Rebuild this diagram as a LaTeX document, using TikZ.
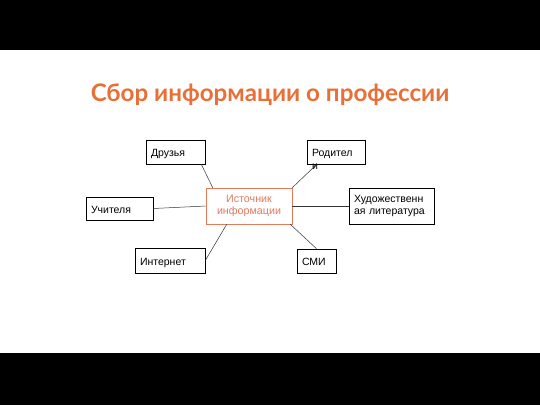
\documentclass[tikz,border=0pt]{standalone}
\usepackage{fontspec}
\setmainfont{Liberation Sans}
\newfontfamily\titlefont{Lato}
\usetikzlibrary{arrows,calc}
\definecolor{orangetitle}{RGB}{232,112,56}
\definecolor{orangebox}{RGB}{226,122,92}

\begin{document}
\begin{tikzpicture}[x=1pt, y=-1pt,
        box/.style={rectangle, draw=black, line width=0.6pt, inner xsep=5pt, inner ysep=0pt, align=left, font=\fontsize{10.5}{12.2}\selectfont},
        oneline/.style={text height=9.5pt, text depth=0pt},
        source/.style={rectangle, draw=orangebox, line width=0.6pt, inner sep=0pt, align=center, text=orangebox, font=\fontsize{10.7}{12.5}\selectfont},
        line/.style={draw, black!80, line width=0.5pt}]
        \fill [black] (0,0) rectangle (540,50);
        \fill [white] (0,50) rectangle (540,353);
        \fill [black] (0,353) rectangle (540,405);

        \node [font=\titlefont\bfseries\fontsize{24.2}{28}\selectfont, text=orangetitle] (title) at (270,95) {Сбор информации о профессии};

        \node [source, minimum width=86pt, minimum height=36pt] (src) at (249,206) {Источник\\информации};
        \node [box, oneline, text width=49pt, minimum height=24pt] (friends) at (175.5,152) {Друзья};
        \node [box, text width=48pt, minimum height=24pt] (parents) at (336,152) {\smash{\raisebox{-4.5pt}{\begin{tabular}[t]{@{}l@{}}Родител\\[0.3pt]и\end{tabular}}}};
        \node [box, oneline, text width=57pt, minimum height=23pt] (teachers) at (119.5,208.5) {Учителя};
        \node [box, text width=75pt, minimum height=36pt] (books) at (391.5,206) {Художественн\\ая литература};
        \node [box, oneline, text width=60pt, minimum height=25pt] (internet) at (170,260.5) {Интернет};
        \node [box, oneline, text width=29pt, minimum height=24pt] (media) at (316.5,261) {СМИ};

        \path [line] ([xshift=-4pt]friends.south east) -- ([xshift=7pt]src.north west);
        \path [line] (teachers.east) -- (src.west);
        \path [line] (internet.east) -- ([xshift=21pt]src.south west);
        \path [line, -latex'] (src.north east) -- ([xshift=10pt]parents.south west);
        \path [line] (src.east) -- (books.west);
        \path [line] ([xshift=-2pt]src.south east) -- (media.north);
    \end{tikzpicture}
\end{document}
